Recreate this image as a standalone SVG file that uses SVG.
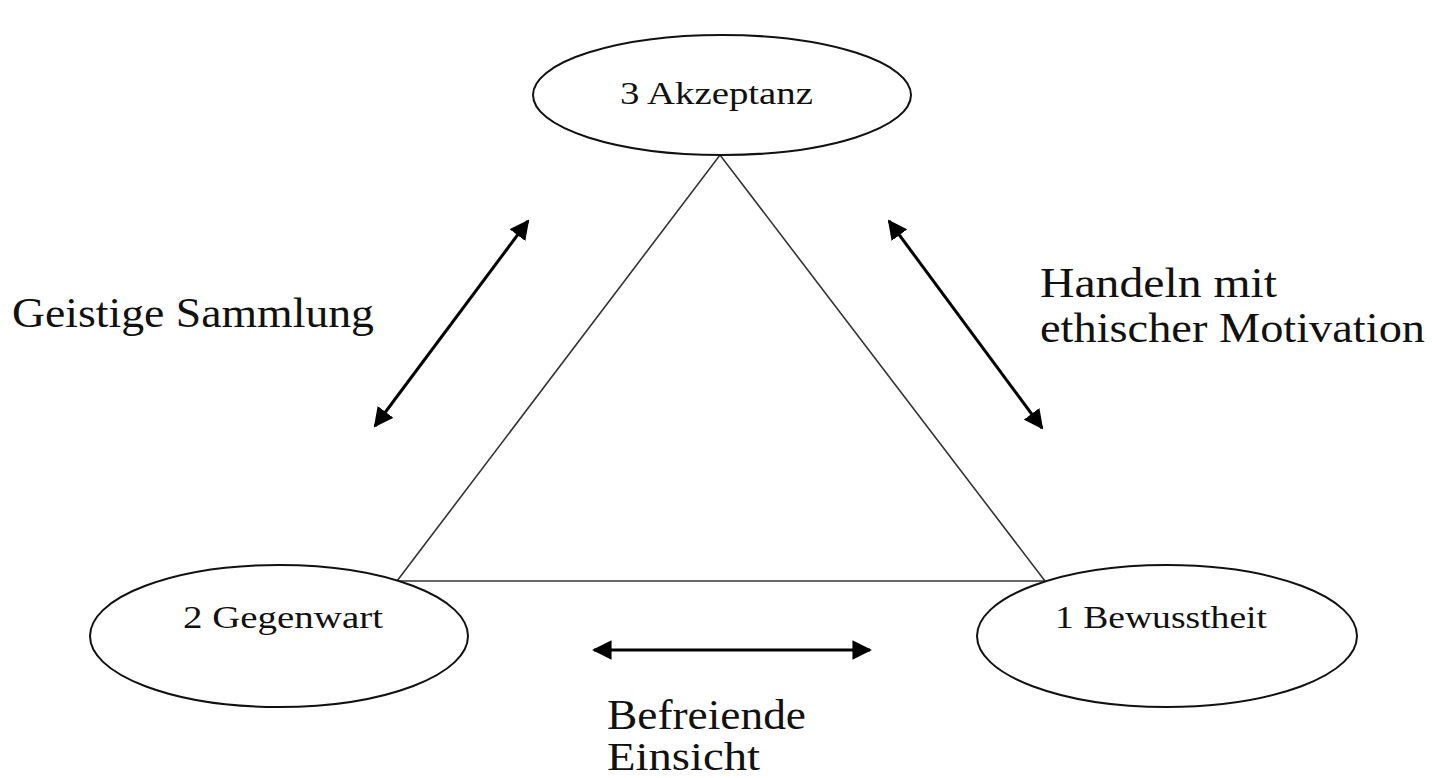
<svg xmlns="http://www.w3.org/2000/svg" width="1432" height="778" viewBox="0 0 1432 778">
<style>
.node ellipse{fill:#fff;stroke:#111;stroke-width:2}
.lbl{font-family:"Liberation Serif","Times New Roman",serif;fill:#111}
.tri{fill:none;stroke:#333;stroke-width:1.6}
.arr{stroke:#000;stroke-width:3;fill:none;marker-start:url(#ah);marker-end:url(#ah)}
</style>
<defs>
<marker id="ah" viewBox="0 0 10 10" refX="9" refY="5" markerWidth="6.5" markerHeight="6.5" orient="auto-start-reverse" markerUnits="strokeWidth">
<path d="M0,0 L10,5 L0,10 z" fill="#000"/>
</marker>
</defs>
<rect width="1432" height="778" fill="#fff"/>
<g id="connectors">
<polyline class="tri" points="397,581 720,155 1045,581"/>
<line class="tri" x1="397" y1="581" x2="1045" y2="581"/>
<line class="arr" x1="375" y1="426" x2="528" y2="221"/>
<line class="arr" x1="889" y1="221" x2="1042" y2="428"/>
<line class="arr" x1="594" y1="650" x2="870" y2="650"/>
</g>
<g id="n3" class="node">
<ellipse cx="722" cy="95" rx="189" ry="60"/>
<text class="lbl" x="620" y="104" font-size="31" textLength="193" lengthAdjust="spacingAndGlyphs">3 Akzeptanz</text>
</g>
<g id="n2" class="node">
<ellipse cx="279" cy="636" rx="189" ry="71"/>
<text class="lbl" x="183" y="628" font-size="31" textLength="200" lengthAdjust="spacingAndGlyphs">2 Gegenwart</text>
</g>
<g id="n1" class="node">
<ellipse cx="1167" cy="636" rx="190" ry="71"/>
<text class="lbl" x="1055" y="628" font-size="31" textLength="212" lengthAdjust="spacingAndGlyphs">1 Bewusstheit</text>
</g>
<g id="labels">
<text class="lbl" x="12" y="327" font-size="42" textLength="362" lengthAdjust="spacingAndGlyphs">Geistige Sammlung</text>
<text class="lbl" x="1040" y="297" font-size="42" textLength="237" lengthAdjust="spacingAndGlyphs">Handeln mit</text>
<text class="lbl" x="1040" y="342" font-size="42" textLength="385" lengthAdjust="spacingAndGlyphs">ethischer Motivation</text>
<text class="lbl" x="607" y="729" font-size="42" textLength="199" lengthAdjust="spacingAndGlyphs">Befreiende</text>
<text class="lbl" x="607" y="770" font-size="40" textLength="153" lengthAdjust="spacingAndGlyphs">Einsicht</text>
</g>
</svg>
